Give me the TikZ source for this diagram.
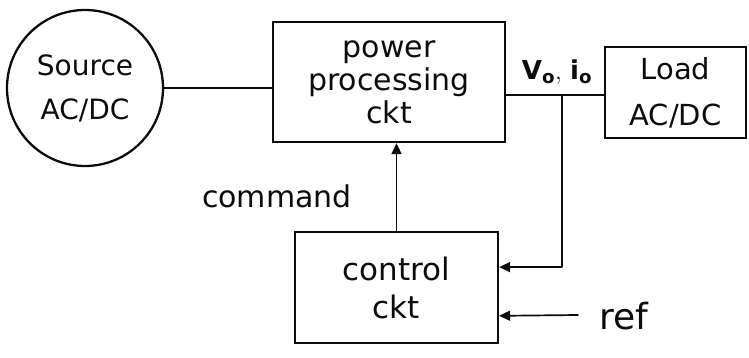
\documentclass[tikz,border=0pt]{standalone}
\usepackage{fontspec}
\setmainfont{DejaVu Sans}
\usetikzlibrary{arrows.meta,positioning,calc}
\definecolor{ink}{RGB}{12,12,12}
\tikzset{
  >={Triangle[length=11pt,width=10pt]},
  wire/.style={line width=1.7pt, draw=ink, line cap=round, line join=round},
  flow/.style={wire, -{Triangle[length=11pt,width=10pt]}},
  block/.style={shape=rectangle, draw=ink, line width=2.3pt, align=center, inner sep=0pt, text=ink, font=\fontsize{30}{33}\selectfont},
  sourceblock/.style={block, shape=circle, minimum size=156pt, font=\fontsize{28}{44}\selectfont},
  tag/.style={text=ink, inner sep=1pt, font=\fontsize{30}{32}\selectfont}
}

\begin{document}
\begin{tikzpicture}[x=1pt,y=-1pt]
  \useasboundingbox (0,0) rectangle (749,358);

  \node[sourceblock] (source) at (85,88) {Source\\AC/DC};
  \node[block, minimum width=232pt, minimum height=120pt] (power) at (389,82) {power\\processing\\ckt};
  \node[block, minimum width=141pt, minimum height=91pt, font=\fontsize{29}{46}\selectfont] (load) at (675.5,92.5) {Load\\AC/DC};
  \node[block, minimum width=203pt, minimum height=111pt, font=\fontsize{31}{38}\selectfont] (control) at (396.5,287.5) {control\\ckt};

  \node[tag] (command) at (277,196) {command};
  \node[tag, font=\fontsize{26}{28}\selectfont] (vo) at (557,72) {$\mathbf{V_o,\,i_o}$};
  \node[tag, font=\fontsize{36}{38}\selectfont] (ref) at (624,316) {ref};

  \coordinate (tap) at (562,95);
  \coordinate (fbin) at ($(control.north east)!0.32!(control.south east)$);
  \coordinate (refin) at ($(control.north east)!0.75!(control.south east)$);
  \coordinate (refstart) at (578,315);

  \draw[wire] (source.east) -- (source.east -| power.west);
  \draw[wire] (power.east |- tap) -- (tap -| load.west);

  % feedback and reference into the controller
  \draw[flow] (tap) |- (fbin);
  \draw[flow] (refstart) -- (refin);
  \draw[flow] (control.north) -- (control.north |- power.south);
\end{tikzpicture}
\end{document}
